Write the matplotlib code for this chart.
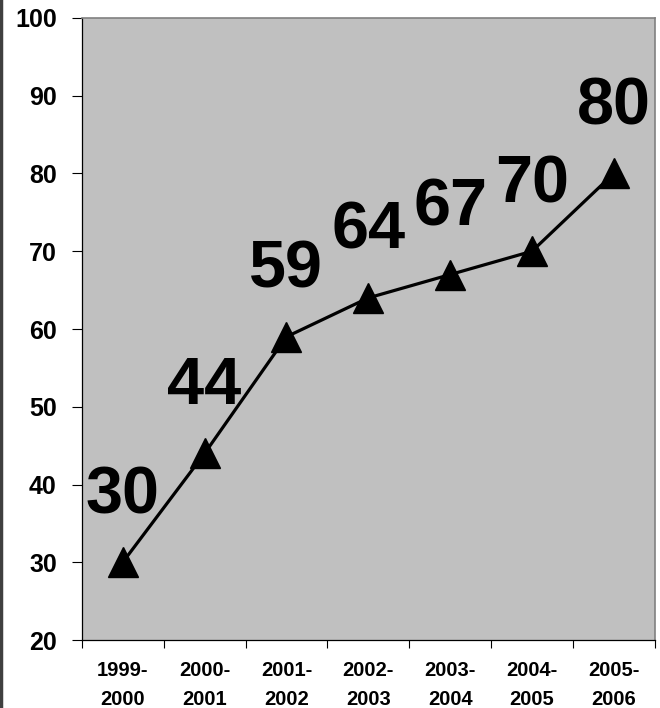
import matplotlib
matplotlib.use("Agg")
import matplotlib.pyplot as plt
from matplotlib.lines import Line2D

categories = ["1999-\n2000", "2000-\n2001", "2001-\n2002", "2002-\n2003",
              "2003-\n2004", "2004-\n2005", "2005-\n2006"]
values = [30, 44, 59, 64, 67, 70, 80]
y_ticks = [20, 30, 40, 50, 60, 70, 80, 90, 100]

plt.rcParams['font.family'] = ['Liberation Sans', 'DejaVu Sans']

fig = plt.figure(figsize=(6.6, 7.08), dpi=100)
ax = fig.add_axes([0.124, 0.096, 0.868, 0.8786])
ax.set_facecolor('#C0C0C0')

x = list(range(len(categories)))
ax.plot(x, values, color='black', linewidth=2.3, marker='^', markersize=21,
        markerfacecolor='black', markeredgecolor='black', zorder=3)

for xi, v in zip(x, values):
    ax.annotate(str(v), (xi, v), xytext=(0, 47.5), textcoords='offset points',
                ha='center', va='center', fontsize=48, fontweight='bold',
                color='black', zorder=4)

ax.set_xlim(-0.5, len(categories) - 0.5)
ax.set_ylim(20, 100)
ax.set_yticks(y_ticks)
ax.set_yticklabels([str(t) for t in y_ticks], fontsize=18, fontweight='bold')
ax.tick_params(axis='y', direction='out', length=7, width=0.8, pad=11, color='black')

ax.set_xticks(x)
ax.set_xticklabels(categories, fontsize=14.5, fontweight='bold', linespacing=1.68)
ax.set_xticks([i - 0.5 for i in range(len(categories) + 1)], minor=True)
ax.tick_params(axis='x', which='major', length=0, pad=15)
ax.tick_params(axis='x', which='minor', direction='out', length=6, width=0.8, color='black')

for s in ['left', 'bottom']:
    ax.spines[s].set_color('black')
    ax.spines[s].set_linewidth(0.9)
for s in ['top', 'right']:
    ax.spines[s].set_color('#808080')
    ax.spines[s].set_linewidth(1.2)

fig.add_artist(Line2D([0.002, 0.002], [0, 1], transform=fig.transFigure,
                      color='#404040', linewidth=2.5))

fig.savefig('out.png', dpi=100, facecolor='white')
